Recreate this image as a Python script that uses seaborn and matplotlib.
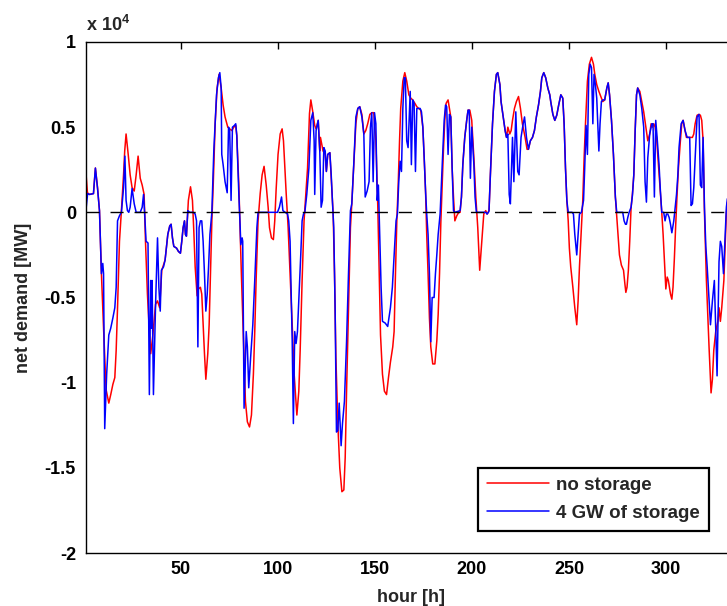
import numpy as np
import pandas as pd
import matplotlib
matplotlib.use("Agg")
import matplotlib.pyplot as plt
import seaborn as sns
from matplotlib.ticker import FuncFormatter

# net demand, in units of 1e4 MW
hours_no_storage = [
    1.0, 1.9, 2.9, 5.0, 6.0, 7.1, 8.1, 9.1, 10.2, 11.5, 12.9, 13.9, 15.0, 16.0, 16.7, 17.4,
    18.4, 19.4, 20.5, 21.1, 21.8, 22.9, 23.9, 24.9, 26.0, 27.0, 28.0, 29.1, 30.1, 31.1, 31.8,
    32.8, 33.9, 34.5, 35.6, 37.0, 38.0, 39.1, 40.2, 41.9, 43.3, 44.3, 45.0, 45.7, 46.4, 47.8,
    48.8, 49.8, 50.5, 51.2, 51.9, 52.4, 52.9, 53.9, 55.0, 56.0, 56.7, 57.4, 58.4, 59.1, 60.1,
    60.8, 61.5, 62.2, 62.9, 63.9, 64.6, 65.3, 66.0, 66.7, 67.7, 68.7, 69.7, 70.8, 71.8, 72.8,
    74.2, 75.2, 76.3, 77.3, 78.3, 78.85, 79.9, 80.6, 81.2, 82.3, 83.3, 84.3, 85.4, 86.4, 87.4,
    88.1, 88.8, 89.8, 90.9, 91.9, 92.9, 94.0, 95.0, 95.7, 96.7, 97.7, 98.4, 99.1, 100.1, 101.2,
    102.2, 102.9, 103.6, 104.3, 105.3, 106.3, 107.4, 108.4, 109.8, 110.8, 111.5, 112.5, 113.5,
    114.2, 115.3, 116.3, 117.0, 118.0, 119.0, 119.7, 120.8, 121.6, 121.95, 122.6, 123.3, 124.4,
    125.0, 125.7, 126.8, 127.8, 128.5, 129.2, 129.9, 130.9, 131.9, 133.0, 134.0, 134.7, 135.4,
    136.4, 137.4, 138.1, 139.1, 140.2, 141.2, 142.2, 143.3, 144.3, 145.3, 146.3, 147.4, 148.4,
    149.4, 150.5, 151.5, 152.2, 152.9, 153.9, 154.9, 156.0, 157.0, 158.0, 159.2, 159.9, 160.6,
    161.3, 162.0, 162.7, 163.3, 164.4, 165.4, 166.4, 167.5, 168.5, 169.5, 170.6, 171.6, 172.6,
    173.6, 174.7, 175.4, 176.1, 176.7, 177.4, 178.1, 178.8, 179.8, 180.9, 181.9, 182.6, 183.3,
    184.0, 184.6, 185.3, 186.0, 186.7, 187.7, 188.4, 189.1, 189.8, 190.5, 191.2, 192.2, 193.2,
    193.9, 194.6, 195.3, 196.3, 197.3, 198.0, 198.9, 199.9, 201.0, 202.0, 203.0, 204.0, 205.1,
    206.1, 207.1, 207.8, 208.8, 209.5, 210.6, 211.6, 212.6, 213.3, 214.4, 215.0, 216.1, 217.1,
    217.8, 218.5, 219.5, 220.2, 220.9, 221.9, 222.9, 224.0, 225.0, 226.0, 226.7, 227.4, 228.4,
    229.1, 230.1, 231.2, 232.2, 233.2, 234.3, 235.3, 236.0, 237.0, 238.0, 239.1, 240.1, 240.6,
    241.7, 242.7, 243.7, 244.7, 245.8, 246.8, 247.5, 248.2, 248.9, 249.6, 250.2, 250.9, 252.0,
    253.0, 254.0, 254.7, 255.4, 256.4, 257.1, 257.8, 258.5, 259.5, 260.5, 261.6, 262.6, 263.3,
    264.3, 265.4, 266.4, 267.4, 268.4, 269.5, 270.2, 270.9, 271.9, 272.9, 273.9, 275.0, 276.0,
    277.0, 278.1, 278.8, 279.3, 279.9, 280.6, 281.3, 282.0, 282.7, 283.4, 284.1, 284.8, 285.4,
    286.5, 287.5, 288.5, 289.6, 290.6, 291.6, 292.3, 293.0, 293.7, 294.4, 295.1, 296.1, 297.1,
    297.8, 298.5, 299.2, 299.9, 300.6, 301.2, 302.3, 303.0, 303.6, 304.3, 305.0, 305.7, 306.4,
    307.4, 308.1, 308.8, 309.5, 310.5, 311.5, 312.6, 313.6, 314.3, 315.0, 316.0, 317.0, 317.7,
    318.4, 319.1, 319.8, 320.8, 321.5, 322.2, 323.2, 323.9, 324.6, 325.6, 326.7, 327.3, 328.0,
    328.7, 329.8, 330.4, 331.1, 331.6]
demand_no_storage = [
    0.25, 0.115, 0.105, 0.11, 0.26, 0.145, 0.01, -0.36, -0.68, -1.04, -1.12, -1.07, -1.01, -0.97, -0.81, -0.56,
    -0.17, 0.01, 0.22, 0.36, 0.46, 0.34, 0.22, 0.145, 0.125, 0.22, 0.33, 0.2, 0.16, 0.105, -0.17,
    -0.48, -0.72, -0.83, -0.72, -0.54, -0.52, -0.56, -0.34, -0.28, -0.13, -0.08, -0.07, -0.15, -0.2, -0.21,
    -0.23, -0.24, -0.17, -0.09, -0.05, -0.13, -0.14, 0.07, 0.15, 0.07, -0.11, -0.32, -0.49, -0.45, -0.44,
    -0.48, -0.66, -0.83, -0.98, -0.83, -0.66, -0.36, -0.05, 0.16, 0.52, 0.73, 0.81, 0.73, 0.63, 0.56,
    0.5, 0.49, 0.48, 0.5, 0.51, 0.45, 0.16, -0.13, -0.36, -0.76, -1.11, -1.23, -1.26, -1.19, -0.95,
    -0.70, -0.40, -0.05, 0.11, 0.22, 0.27, 0.16, 0.03, -0.09, -0.15, -0.16, -0.05, 0.13, 0.34, 0.46,
    0.49, 0.42, 0.26, 0.11, -0.09, -0.36, -0.66, -0.95, -1.19, -1.05, -0.81, -0.40, -0.05,
    0.07, 0.26, 0.58, 0.66, 0.59, 0.51, 0.49, 0.54, 0.36, 0.44, 0.40, 0.36, 0.34,
    0.24, 0.34, 0.35, 0.145, -0.01, -0.36, -0.85, -1.24, -1.5, -1.64, -1.63, -1.44, -1.05,
    -0.56, -0.09, 0.05, 0.28, 0.52, 0.61, 0.62, 0.575, 0.46, 0.48, 0.52, 0.575, 0.585,
    0.585, 0.42, 0.03, -0.36, -0.72, -0.95, -1.05, -1.07, -0.97, -0.88, -0.79, -0.70, -0.36,
    -0.05, 0.16, 0.42, 0.61, 0.77, 0.82, 0.77, 0.69, 0.67, 0.66, 0.64, 0.62, 0.61,
    0.60, 0.50, 0.32, 0.125, -0.13, -0.36, -0.62, -0.79, -0.89, -0.89, -0.755, -0.6, -0.36,
    -0.05, 0.145, 0.36, 0.54, 0.64, 0.66, 0.61, 0.56, 0.26, 0.09, -0.05, -0.02, 0.0,
    0.0, 0.09, 0.28, 0.44, 0.54, 0.60, 0.60, 0.54, 0.32, 0.09, -0.09, -0.34, -0.17,
    -0.01, 0.01, -0.01, 0.01, 0.22, 0.52, 0.71, 0.81, 0.82, 0.75, 0.65, 0.56, 0.48,
    0.44, 0.50, 0.46, 0.48, 0.54, 0.61, 0.65, 0.68, 0.61, 0.52, 0.48, 0.44, 0.37,
    0.37, 0.42, 0.44, 0.48, 0.56, 0.63, 0.71, 0.79, 0.82, 0.79, 0.73, 0.69, 0.65,
    0.575, 0.54, 0.57, 0.63, 0.69, 0.67, 0.52, 0.26, 0.07, -0.05, -0.21, -0.32, -0.44,
    -0.56, -0.66, -0.52, -0.32, -0.09, 0.07, 0.32, 0.52, 0.77, 0.87, 0.91, 0.87, 0.81,
    0.75, 0.71, 0.68, 0.65, 0.66, 0.73, 0.76, 0.69, 0.54, 0.34, 0.09, -0.09, -0.25,
    -0.31, -0.34, -0.42, -0.47, -0.44, -0.34, -0.17, 0.03, 0.11, 0.22, 0.48, 0.69, 0.73,
    0.71, 0.65, 0.59, 0.50, 0.42, 0.46, 0.52, 0.50, 0.52, 0.50, 0.44, 0.28, 0.125,
    0.0, -0.13, -0.29, -0.45, -0.38, -0.40, -0.48, -0.51, -0.44, -0.27, -0.07, 0.105, 0.26,
    0.42, 0.52, 0.54, 0.50, 0.44, 0.44, 0.44, 0.44, 0.46, 0.52, 0.57, 0.575, 0.57,
    0.54, 0.42, 0.0, -0.40, -0.6, -0.8, -1.06, -0.98, -0.81, -0.70, -0.64, -0.56, -0.64,
    -0.56, -0.40, -0.21, 0.0, 0.06]

hours_4gw = [
    1.0, 2.0, 3.0, 5.0, 6.0, 7.1, 8.1, 9.1, 9.8, 10.2, 10.8, 11.8, 12.9, 13.9, 15.0, 16.0,
    16.7, 17.4, 18.4, 19.4, 20.5, 21.2, 21.8, 22.5, 23.2, 23.9, 24.9, 26.0, 27.0, 29.1, 30.1,
    30.8, 31.3, 32.1, 33.1, 33.8, 34.5, 34.9, 35.2, 35.9, 37.0, 38.0, 38.7, 39.4, 40.0, 41.1,
    41.9, 43.3, 44.3, 45.0, 45.7, 46.4, 47.8, 48.8, 49.8, 50.5, 51.2, 51.9, 52.4, 52.9, 53.6,
    54.6, 56.4, 57.4, 58.1, 58.8, 59.4, 60.1, 60.8, 61.5, 62.2, 62.9, 63.6, 64.3, 65.0, 66.0,
    67.0, 68.4, 69.4, 70.1, 70.8, 71.1, 71.8, 72.8, 73.9, 74.6, 75.2, 75.9, 76.6, 77.6, 78.3,
    78.85, 79.9, 80.6, 80.9, 81.6, 81.9, 82.6, 83.7, 84.3, 85.0, 86.1, 87.1, 88.1, 89.2, 89.8,
    99.8, 100.8, 101.9, 102.6, 105.0, 105.6, 106.3, 107.4, 108.0, 108.7, 109.4, 110.1, 110.8,
    111.8, 112.5, 113.2, 113.9, 114.9, 116.0, 117.0, 118.0, 118.7, 119.0, 119.7, 120.8, 121.6,
    122.3, 123.0, 123.7, 124.4, 125.0, 125.7, 126.8, 127.5, 128.1, 128.8, 129.5, 130.2, 130.9,
    131.6, 132.6, 133.3, 134.3, 135.4, 136.4, 137.4, 138.1, 139.1, 140.2, 141.2, 142.2, 143.3,
    144.3, 145.0, 146.0, 147.0, 147.7, 148.4, 149.1, 149.8, 150.5, 151.2, 151.8, 152.5, 153.2,
    153.9, 155.3, 156.6, 158.0, 159.0, 159.9, 160.9, 161.6, 162.3, 163.0, 163.7, 164.4, 165.1,
    165.7, 166.4, 167.1, 168.2, 168.8, 169.5, 170.2, 170.9, 171.6, 173.3, 174.0, 174.7, 175.4,
    176.1, 176.7, 177.4, 178.1, 178.8, 179.5, 180.5, 181.2, 181.9, 182.6, 183.6, 184.3, 185.0,
    185.7, 186.4, 187.0, 187.7, 188.4, 189.1, 189.8, 190.5, 191.2, 193.9, 194.6, 195.3, 196.3,
    197.3, 198.0, 198.6, 199.2, 199.9, 201.0, 201.6, 202.3, 206.4, 207.1, 207.8, 208.5, 208.8,
    209.5, 210.6, 211.6, 212.6, 213.3, 214.4, 215.0, 216.1, 217.1, 217.8, 218.5, 219.2, 219.8,
    220.9, 221.6, 222.6, 223.6, 224.3, 225.3, 226.4, 227.1, 228.1, 229.1, 230.1, 231.2, 232.2,
    233.2, 234.3, 235.3, 236.0, 237.0, 238.0, 239.1, 240.1, 240.6, 241.7, 242.7, 243.7, 244.7,
    245.8, 246.8, 247.5, 248.2, 248.9, 249.6, 251.6, 252.3, 253.0, 254.0, 254.7, 255.4, 256.4,
    257.5, 258.1, 258.8, 259.5, 260.2, 260.9, 261.6, 262.3, 262.9, 263.6, 264.3, 265.4, 266.0,
    266.7, 267.4, 268.4, 269.5, 270.2, 270.9, 271.9, 272.9, 273.9, 274.6, 276.7, 277.7, 278.4,
    279.1, 279.6, 280.3, 281.0, 282.0, 282.7, 283.4, 284.1, 284.8, 285.4, 286.5, 287.5, 288.5,
    289.2, 289.9, 290.6, 291.6, 292.7, 293.3, 294.0, 294.7, 295.4, 296.4, 297.1, 297.8, 298.8,
    299.5, 300.2, 300.9, 301.6, 302.3, 303.0, 304.0, 304.7, 305.4, 306.1, 306.7, 307.8, 308.8,
    309.8, 310.9, 312.2, 312.9, 313.6, 314.3, 315.0, 316.0, 317.0, 317.7, 318.4, 319.1, 319.8,
    320.5, 321.2, 321.9, 322.9, 323.9, 324.9, 326.3, 327.3, 328.0, 328.7, 329.6, 330.4, 331.1,
    331.6]
demand_4gw = [
    0.0, 0.11, 0.105, 0.11, 0.26, 0.14, 0.01, -0.36, -0.30, -0.36, -1.27, -0.95, -0.72, -0.68, -0.62, -0.56,
    -0.44, -0.05, -0.02, 0.0, 0.145, 0.33, 0.07, 0.01, 0.0, 0.03, 0.14, 0.05, 0.0, 0.0, 0.03,
    0.105, 0.01, -0.17, -0.18, -1.07, -0.4, -0.68, -0.4, -1.07, -0.54, -0.15, -0.44, -0.58, -0.34, -0.32,
    -0.28, -0.13, -0.08, -0.07, -0.15, -0.2, -0.21, -0.23, -0.24, -0.17, -0.09, -0.05, -0.13, -0.14, 0.01,
    0.0, 0.0, -0.01, -0.05, -0.79, -0.09, -0.05, -0.05, -0.17, -0.36, -0.58, -0.48, -0.32, -0.13, 0.0,
    0.36, 0.69, 0.79, 0.82, 0.73, 0.34, 0.28, 0.18, 0.115, 0.50, 0.48, 0.07, 0.50, 0.51, 0.52,
    0.45, 0.105, -0.09, -0.19, -0.15, -0.17, -1.15, -0.70, -0.79, -1.03, -0.83, -0.66, -0.40, -0.09, 0.0,
    0.0, 0.03, 0.09, 0.01, -0.01, -0.05, -0.17, -0.76, -1.24, -0.70, -0.77, -0.70, -0.52,
    -0.25, -0.05, -0.01, 0.0, 0.105, 0.26, 0.54, 0.585, 0.42, 0.105, 0.48, 0.54, 0.36,
    0.03, 0.07, 0.38, 0.36, 0.24, 0.34, 0.35, 0.22, 0.07, -0.09, -0.56, -1.29, -1.28,
    -1.12, -1.37, -1.24, -1.11, -0.76, -0.36, 0.01, 0.05, 0.28, 0.56, 0.61, 0.62, 0.56,
    0.46, 0.09, 0.125, 0.18, 0.50, 0.585, 0.18, 0.585, 0.52, 0.07, 0.16, -0.13, -0.44,
    -0.64, -0.65, -0.67, -0.56, -0.44, -0.25, -0.05, -0.01, 0.18, 0.30, 0.24, 0.61, 0.79,
    0.79, 0.42, 0.38, 0.71, 0.28, 0.66, 0.64, 0.24, 0.61, 0.61, 0.59, 0.50, 0.32,
    0.125, -0.01, -0.13, -0.36, -0.76, -0.50, -0.50, -0.36, -0.25, -0.13, -0.01, 0.18, 0.36,
    0.54, 0.63, 0.62, 0.34, 0.575, 0.56, 0.26, 0.01, 0.0, 0.01, 0.09, 0.28, 0.44,
    0.54, 0.60, 0.60, 0.20, 0.50, 0.28, 0.09, 0.0, 0.0, 0.0, -0.01, 0.0, 0.01,
    0.22, 0.52, 0.71, 0.81, 0.82, 0.75, 0.65, 0.56, 0.48, 0.44, 0.46, 0.105, 0.05,
    0.44, 0.18, 0.59, 0.24, 0.22, 0.44, 0.52, 0.56, 0.44, 0.37, 0.42, 0.44, 0.48,
    0.56, 0.63, 0.71, 0.79, 0.82, 0.79, 0.73, 0.69, 0.65, 0.575, 0.54, 0.57, 0.63,
    0.69, 0.67, 0.52, 0.26, 0.07, 0.0, 0.0, -0.01, -0.13, -0.25, -0.13, -0.01, 0.0,
    0.07, 0.26, 0.51, 0.34, 0.81, 0.87, 0.85, 0.52, 0.81, 0.75, 0.67, 0.36, 0.52,
    0.65, 0.66, 0.66, 0.73, 0.76, 0.69, 0.54, 0.34, 0.09, 0.0, 0.0, 0.0, -0.05,
    -0.07, -0.07, -0.03, 0.0, 0.03, 0.1, 0.22, 0.48, 0.69, 0.73, 0.69, 0.61, 0.50,
    0.18, 0.06, 0.32, 0.46, 0.52, 0.52, 0.09, 0.54, 0.44, 0.28, 0.125, 0.0, 0.0,
    -0.05, -0.01, -0.01, -0.03, -0.07, -0.12, -0.05, 0.03, 0.105, 0.22, 0.38, 0.52, 0.54,
    0.48, 0.44, 0.44, 0.04, 0.05, 0.145, 0.32, 0.56, 0.575, 0.16, 0.145, 0.44, 0.03,
    -0.20, -0.32, -0.46, -0.66, -0.52, -0.40, -0.96, -0.29, -0.17, -0.20, -0.36, -0.15, 0.03,
    0.08]

series_labels = ["no storage", "4 GW of storage"]

df_red = pd.DataFrame({"hour": hours_no_storage,
                       "demand": np.array(demand_no_storage) * 1e4})
df_blue = pd.DataFrame({"hour": hours_4gw,
                        "demand": np.array(demand_4gw) * 1e4})

sns.set_theme(style="white")
plt.rcParams['font.family'] = ['Liberation Sans', 'DejaVu Sans']
plt.rcParams['font.weight'] = 'bold'
plt.rcParams['mathtext.fontset'] = 'custom'
plt.rcParams['mathtext.rm'] = 'Liberation Sans:bold'
plt.rcParams['mathtext.bf'] = 'Liberation Sans:bold'

fig = plt.figure(figsize=(7.27, 6.06), dpi=100)
ax = fig.add_axes([85.7 / 727, 53 / 606, 650.2 / 727, 511 / 606])

sns.lineplot(data=df_red, x="hour", y="demand", color="#ff0000", lw=1.1,
             estimator=None, sort=False, ax=ax, label=series_labels[0])
sns.lineplot(data=df_blue, x="hour", y="demand", color="#0000ff", lw=1.1,
             estimator=None, sort=False, ax=ax, label=series_labels[1])
ax.axhline(0, color="black", lw=1.0, ls=(0, (9.4, 7.9)), zorder=3)

ax.set_xlim(1, 336)
ax.set_ylim(-20000, 10000)
ax.set_xticks(np.arange(50, 301, 50))
ax.set_yticks(np.arange(-20000, 10001, 5000))
ax.yaxis.set_major_formatter(FuncFormatter(lambda v, p: f"{v / 1e4:g}"))
ax.tick_params(direction="in", length=5, width=1, colors="black",
               top=True, right=True, labelsize=13)
ax.tick_params(axis="x", pad=6)
ax.tick_params(axis="y", pad=7)
for sp in ax.spines.values():
    sp.set_color("black")
    sp.set_linewidth(1.0)

ax.set_xlabel("hour [h]", fontsize=13, fontweight="bold", labelpad=8)
ax.set_ylabel("net demand [MW]", fontsize=13, fontweight="bold", labelpad=9)
ax.text(0.0, 1.0 + 11 / 511, r"x 10$^{\mathbf{4}}$", transform=ax.transAxes,
        ha="left", va="baseline", fontsize=13, fontweight="bold")

leg = ax.legend(loc="lower right", bbox_to_anchor=(0.9586, 0.043), borderaxespad=0,
                fontsize=13.5, frameon=True, fancybox=False, framealpha=1,
                edgecolor="black", handlelength=3.3, handletextpad=0.35,
                labelspacing=0.56, borderpad=0.5)
leg.get_frame().set_linewidth(1.6)
for t in leg.get_texts():
    t.set_fontweight("bold")

fig.savefig("out.png", dpi=100)
